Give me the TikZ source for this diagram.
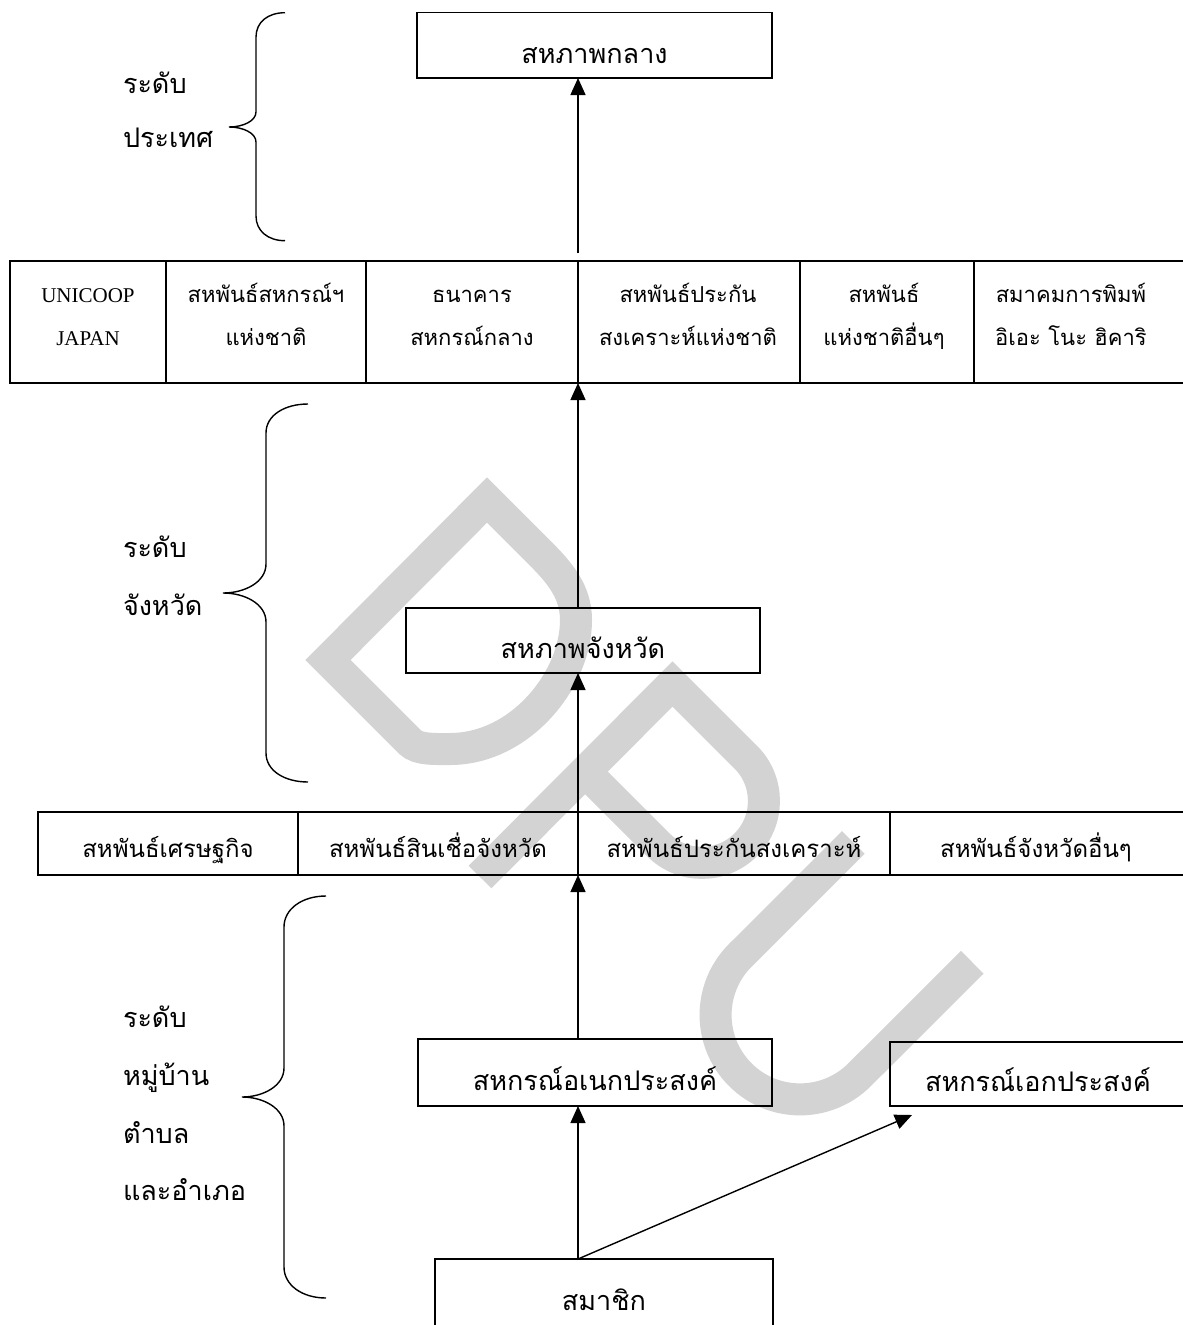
\documentclass[tikz,border=0pt]{standalone}
\usepackage{fontspec}
\setmainfont{Liberation Serif}
\newfontfamily\thaiface[Script=Thai]{Loma}
\usetikzlibrary{arrows.meta}
\definecolor{wmgray}{RGB}{211,211,211}
\newcommand\thaiBig{\thaiface\fontsize{27}{30}\selectfont}
\newcommand\thaiMid{\thaiface\fontsize{24}{28}\selectfont}
\newcommand\thaiSm{\thaiface\fontsize{22}{26}\selectfont}
\newcommand\latinSm{\fontsize{21}{24}\selectfont}
\begin{document}
\begin{tikzpicture}[x=1pt,y=-1pt,
  cell/.style={draw, line width=1.5pt, inner sep=0pt, outer sep=0pt, anchor=north west},
  lbl/.style={anchor=base, inner sep=0pt, outer sep=0pt},
  lvl/.style={anchor=base west, inner sep=0pt, outer sep=0pt, font=\thaiBig},
  arr/.style={line width=1.4pt, -{Triangle[length=17pt,width=15pt]}},
  brc/.style={line width=1.4pt},
  wm/.style={draw=wmgray, line width=32pt, line join=miter, line cap=butt}]
\useasboundingbox (0,0) rectangle (1183,1325);
\clip (0,0) rectangle (1183,1325);
\fill[white] (0,0) rectangle (1183,1325);

% watermark (drawn behind)
\draw[wm] (487,500) -- (540,553) .. controls (560,573) and (576,592) .. (576,620)
  .. controls (576,680) and (520,749) .. (450,749)
  .. controls (435,749) and (418,750) .. (410,742) -- (328,660) -- cycle;
\begin{scope}[shift={(0,1325)}, y=1pt]
  \draw[wm] (480,448) -- (672.5,641) -- (745.8,567.8) arc[start angle=45, end angle=-135, radius=61.9] -- (585,553.5);
  \draw[wm] (853.3,482.5) -- (740.3,369.7) arc[start angle=135, end angle=315, radius=84.4] -- (972.3,362.7);
\end{scope}

% top box
\node[cell, minimum width=355pt, minimum height=65.3pt] (central) at (417,12.7) {};
\node[lbl, font=\thaiBig] (tcentral) at (594.5,63) {สหภาพกลาง};

% strip 1
\node[cell, minimum width=156pt, minimum height=122pt] (n1) at (10,261) {};
\node[cell, minimum width=200pt, minimum height=122pt] (n2) at (166,261) {};
\node[cell, minimum width=212pt, minimum height=122pt] (n3) at (366,261) {};
\node[cell, minimum width=222pt, minimum height=122pt] (n4) at (578,261) {};
\node[cell, minimum width=174pt, minimum height=122pt] (n5) at (800,261) {};
\node[cell, minimum width=230pt, minimum height=122pt] (n6) at (974,261) {};
\node[lbl, font=\latinSm] (t1a) at (88,302) {UNICOOP};
\node[lbl, font=\latinSm] (t1b) at (88,345) {JAPAN};
\node[lbl, font=\thaiSm] (t2a) at (266,302) {สหพันธ์สหกรณ์ฯ};
\node[lbl, font=\thaiSm] (t2b) at (266,345) {แห่งชาติ};
\node[lbl, font=\thaiSm] (t3a) at (472,302) {ธนาคาร};
\node[lbl, font=\thaiSm] (t3b) at (472,345) {สหกรณ์กลาง};
\node[lbl, font=\thaiSm] (t4a) at (688,302) {สหพันธ์ประกัน};
\node[lbl, font=\thaiSm] (t4b) at (688,345) {สงเคราะห์แห่งชาติ};
\node[lbl, font=\thaiSm] (t5a) at (884,302) {สหพันธ์};
\node[lbl, font=\thaiSm] (t5b) at (884,345) {แห่งชาติอื่นๆ};
\node[lbl, font=\thaiSm] (t6a) at (1071,302) {สมาคมการพิมพ์};
\node[lbl, font=\thaiSm] (t6b) at (1071,345) {อิเอะ โนะ ฮิคาริ};

% province box
\node[cell, minimum width=354pt, minimum height=65pt] (prov) at (406,608) {};
\node[lbl, font=\thaiBig] (tprov) at (583,658) {สหภาพจังหวัด};

% strip 2
\node[cell, minimum width=260pt, minimum height=63pt] (s1) at (38,812) {};
\node[cell, minimum width=280pt, minimum height=63pt] (s2) at (298,812) {};
\node[cell, minimum width=312pt, minimum height=63pt] (s3) at (578,812) {};
\node[cell, minimum width=310pt, minimum height=63pt] (s4) at (890,812) {};
\node[lbl, font=\thaiMid] (u1) at (168,857) {สหพันธ์เศรษฐกิจ};
\node[lbl, font=\thaiMid] (u2) at (438,857) {สหพันธ์สินเชื่อจังหวัด};
\node[lbl, font=\thaiMid] (u3) at (734,857) {สหพันธ์ประกันสงเคราะห์};
\node[lbl, font=\thaiMid] (u4) at (1036,857) {สหพันธ์จังหวัดอื่นๆ};

% local boxes
\node[cell, minimum width=354pt, minimum height=67pt] (multi) at (418,1039) {};
\node[lbl, font=\thaiBig] (tmulti) at (595,1090) {สหกรณ์อเนกประสงค์};
\node[cell, minimum width=310pt, minimum height=64pt] (single) at (890,1042) {};
\node[lbl, font=\thaiBig] (tsingle) at (1038,1091) {สหกรณ์เอกประสงค์};
\node[cell, minimum width=338pt, minimum height=100pt] (member) at (435,1259) {};
\node[lbl, font=\thaiBig] (tmember) at (604,1310) {สมาชิก};

% level labels
\node[lvl] (l1a) at (123,93) {ระดับ};
\node[lvl] (l1b) at (123,147) {ประเทศ};
\node[lvl] (l2a) at (123,557) {ระดับ};
\node[lvl] (l2b) at (123,615) {จังหวัด};
\node[lvl] (l3a) at (123,1027) {ระดับ};
\node[lvl] (l3b) at (123,1085) {หมู่บ้าน};
\node[lvl] (l3c) at (123,1143) {ตำบล};
\node[lvl] (l3d) at (123,1200) {และอำเภอ};

% braces
\draw[brc] (285,12.7) .. controls (268,12.7) and (256,22) .. (256,37) -- (256,112)
  .. controls (256,121) and (243,127) .. (229,127)
  .. controls (243,127) and (256,133) .. (256,142) -- (256,216)
  .. controls (256,231) and (268,240.7) .. (285,240.7);
\draw[brc] (308,404) .. controls (285,404) and (266,415) .. (266,433) -- (266,564)
  .. controls (266,582) and (245,593) .. (223,593)
  .. controls (245,593) and (266,604) .. (266,622) -- (266,753)
  .. controls (266,771) and (285,782) .. (308,782);
\draw[brc] (326,896) .. controls (302,896) and (284,909) .. (284,927) -- (284,1068)
  .. controls (284,1086) and (263,1097) .. (242,1097)
  .. controls (263,1097) and (284,1108) .. (284,1126) -- (284,1267)
  .. controls (284,1285) and (302,1298) .. (326,1298);

% connectors
\coordinate (a1) at ([yshift=8pt]n4.north west);
\draw[arr] (a1) -- (central.south -| a1);
\draw[arr] (prov.north -| n4.south west) -- (n4.south west);
\draw[arr] (s3.north west) -- (prov.south -| s3.north west);
\draw[arr] (multi.north -| s3.south west) -- (s3.south west);
\coordinate (m0) at (member.north -| s3.south west);
\draw[arr] (m0) -- (multi.south -| m0);
\coordinate (stip) at ([xshift=22pt,yshift=-9pt]single.south west);
\draw[arr] (m0) -- (stip);
\end{tikzpicture}
\end{document}
